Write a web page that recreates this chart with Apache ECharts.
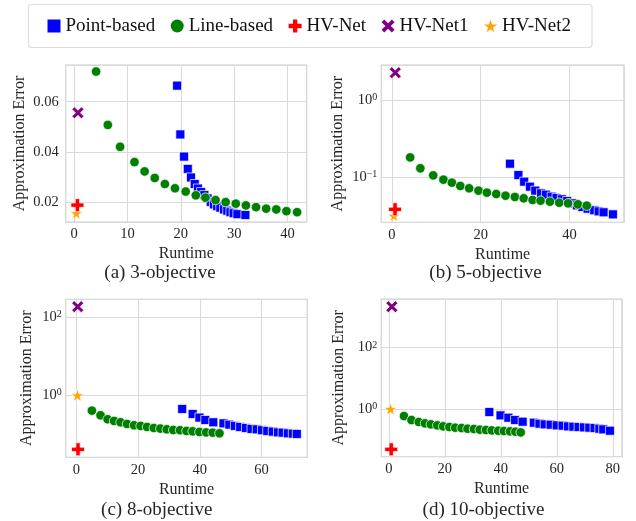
<!DOCTYPE html>
<html>
<head>
<meta charset="utf-8">
<script src="https://cdn.jsdelivr.net/npm/echarts@6/dist/echarts.min.js"></script>
<style>
  html, body { margin: 0; padding: 0; background: #fff; }
  #chart { width: 636px; height: 521px; }
</style>
</head>
<body>
<div id="chart"></div>
<script>
// (a) 3-objective
const aPointX = [19.3, 19.9, 20.6, 21.3, 21.9, 22.6, 23.2, 23.8, 24.4, 25.0, 25.6, 26.2, 26.8, 27.4, 28.1, 28.7, 29.3, 29.9, 30.6, 32.1];
const aPointY = [0.0664, 0.0470, 0.0382, 0.0333, 0.0299, 0.0273, 0.0255, 0.0241, 0.0229, 0.0216, 0.0202, 0.0192, 0.0185, 0.0179, 0.0172, 0.0167, 0.0161, 0.0157, 0.0153, 0.0150];
const aLineX = [4.1, 6.3, 8.6, 11.3, 13.2, 15.1, 17.0, 18.9, 20.9, 22.8, 24.6, 26.5, 28.4, 30.3, 32.2, 34.1, 36.0, 37.9, 39.8, 41.8];
const aLineY = [0.0720, 0.0508, 0.0421, 0.0360, 0.0323, 0.0297, 0.0273, 0.0256, 0.0243, 0.0228, 0.0219, 0.0209, 0.0201, 0.0195, 0.0188, 0.0181, 0.0175, 0.0172, 0.0165, 0.0161];
const aHVNet = [0.6, 0.0189];
const aHVNet1 = [0.7, 0.0556];
const aHVNet2 = [0.4, 0.0157];

// (b) 5-objective
const bPointX = [26.6, 28.5, 29.8, 31.1, 32.3, 33.6, 34.7, 36.0, 37.1, 38.3, 39.5, 40.6, 41.7, 42.9, 44.1, 45.6, 46.6, 47.7, 49.8];
const bPointY = [0.150, 0.107, 0.0879, 0.0757, 0.0673, 0.0621, 0.0597, 0.0562, 0.0541, 0.0520, 0.0494, 0.0461, 0.0434, 0.0413, 0.0393, 0.0375, 0.0363, 0.0353, 0.0332];
const bLineX = [4.1, 6.4, 9.3, 11.6, 13.5, 15.4, 17.4, 19.5, 21.4, 23.5, 25.6, 27.7, 29.7, 31.7, 33.5, 35.6, 37.7, 39.7, 41.9, 43.9];
const bLineY = [0.181, 0.131, 0.106, 0.0933, 0.0853, 0.0773, 0.0721, 0.0673, 0.0634, 0.0609, 0.0579, 0.0557, 0.0535, 0.0509, 0.0499, 0.0484, 0.0469, 0.0461, 0.0447, 0.0430];
const bHVNet = [0.7, 0.0386];
const bHVNet1 = [0.75, 2.26];
const bHVNet2 = [0.45, 0.0319];

// (c) 8-objective
const cPointX = [34.3, 37.7, 39.9, 41.8, 44.4, 47.7, 49.6, 51.4, 53.1, 55.0, 56.8, 58.5, 60.2, 61.9, 63.7, 65.4, 66.9, 68.6, 70.2, 71.5];
const cPointY = [0.446, 0.332, 0.268, 0.233, 0.203, 0.191, 0.177, 0.164, 0.154, 0.145, 0.137, 0.134, 0.127, 0.122, 0.117, 0.112, 0.110, 0.106, 0.104, 0.102];
const cLineX = [5.0, 7.8, 10.1, 12.2, 14.3, 16.4, 18.7, 20.8, 22.9, 25.1, 27.2, 29.3, 31.4, 33.6, 35.7, 37.7, 39.9, 42.1, 44.2, 46.4];
const cLineY = [0.404, 0.307, 0.243, 0.220, 0.203, 0.184, 0.170, 0.164, 0.154, 0.145, 0.140, 0.134, 0.129, 0.127, 0.122, 0.119, 0.115, 0.112, 0.110, 0.106];
const cHVNet = [0.5, 0.0412];
const cHVNet1 = [0.4, 188];
const cHVNet2 = [0.3, 1.0];

// (d) 10-objective
const dPointX = [35.9, 39.9, 42.7, 45.1, 47.8, 51.8, 53.8, 55.7, 57.8, 60.0, 62.1, 64.0, 65.9, 67.8, 69.7, 71.6, 73.5, 75.2, 76.6, 79.0];
const dPointY = [0.798, 0.621, 0.521, 0.438, 0.386, 0.358, 0.332, 0.316, 0.308, 0.293, 0.286, 0.272, 0.265, 0.259, 0.252, 0.246, 0.240, 0.228, 0.217, 0.196];
const dLineX = [5.4, 8.1, 10.7, 12.9, 15.0, 17.3, 19.4, 21.6, 23.7, 26.0, 28.1, 30.4, 32.5, 34.7, 36.8, 39.1, 41.1, 43.3, 45.2, 47.1];
const dLineY = [0.591, 0.438, 0.377, 0.341, 0.316, 0.293, 0.272, 0.259, 0.246, 0.240, 0.228, 0.223, 0.212, 0.207, 0.201, 0.196, 0.192, 0.187, 0.182, 0.173];
const dHVNet = [0.85, 0.0484];
const dHVNet1 = [1.07, 2175];
const dHVNet2 = [0.6, 1.0];

const seriesNames = ["Point-based", "Line-based", "HV-Net", "HV-Net1", "HV-Net2"];
const panelTitles = ["(a) 3-objective", "(b) 5-objective", "(c) 8-objective", "(d) 10-objective"];

const FONT = "'Liberation Serif', 'Times New Roman', serif";
const TXT = "#262626";

// marker shapes
const PLUS = "path://M4,0H8V4H12V8H8V12H4V8H0V4H4Z";
const XMARK = "path://M0,2.5L2.5,0L6,3.5L9.5,0L12,2.5L8.5,6L12,9.5L9.5,12L6,8.5L2.5,12L0,9.5L3.5,6Z";
const STAR = "path://M100,0L122.45,69.1L195.1,69.1L136.33,111.8L158.8,180.9L100,138.2L41.2,180.9L63.67,111.8L4.9,69.1L77.55,69.1Z";

const colors = {"Point-based": "#0000ff", "Line-based": "#008000", "HV-Net": "#ff0000", "HV-Net1": "#800080", "HV-Net2": "#ffa500"};

function pairs(xs, ys) { return xs.map((x, i) => [x, ys[i]]); }

const panels = [
  {grid: {left: 65.7, top: 65, width: 241, height: 157}, x: [-1.6, 43.6], xSplit: 4, y: [0.0122, 0.0746], log: 0, yNameGap: 38, labelMargin: 7,
   data: [pairs(aPointX, aPointY), pairs(aLineX, aLineY), [aHVNet], [aHVNet1], [aHVNet2]], title: [160, 272.7]},
  {grid: {left: 381.3, top: 65, width: 242.7, height: 157.3}, x: [-2.4, 52.3], xSplit: 3, y: [0.0262, 2.84], log: 10, yNameGap: 36, labelMargin: 4,
   data: [pairs(bPointX, bPointY), pairs(bLineX, bLineY), [bHVNet], [bHVNet1], [bHVNet2]], title: [485.5, 272.7]},
  {grid: {left: 65.7, top: 299.3, width: 241.6, height: 158}, x: [-3.5, 74.9], xSplit: 4, y: [0.0257, 290], log: 100, yNameGap: 31, labelMargin: 4,
   data: [pairs(cPointX, cPointY), pairs(cLineX, cLineY), [cHVNet], [cHVNet1], [cHVNet2]], title: [156.7, 510]},
  {grid: {left: 381.3, top: 299, width: 240.7, height: 157.7}, x: [-2.7, 83.3], xSplit: 4, y: [0.0279, 3860], log: 100, yNameGap: 34.5, labelMargin: 4,
   data: [pairs(dPointX, dPointY), pairs(dLineX, dLineY), [dHVNet], [dHVNet1], [dHVNet2]], title: [483.5, 510]}
];

const symbolOf = {
  "Point-based": {symbol: "rect", size: 9},
  "Line-based": {symbol: "circle", size: 9.5},
  "HV-Net": {symbol: PLUS, size: 13},
  "HV-Net1": {symbol: XMARK, size: 12},
  "HV-Net2": {symbol: STAR, size: 13}
};
// drawing order (later is on top)
const drawOrder = [0, 1, 4, 2, 3];

function logLabel(v) {
  const e = Math.round(Math.log10(v));
  return "{b|10}{s|" + String(e).replace("-", "\u2212") + "}";
}

const grids = [], xAxes = [], yAxes = [], series = [], titles = [];
panels.forEach((p, i) => {
  grids.push(Object.assign({show: true, borderColor: "#cccccc", borderWidth: 1.25, backgroundColor: "#fff"}, p.grid));
  xAxes.push({
    type: "value", gridIndex: i, min: p.x[0], max: p.x[1], splitNumber: p.xSplit,
    name: "Runtime", nameLocation: "middle", nameGap: 24,
    nameTextStyle: {fontFamily: FONT, fontSize: 16, color: TXT},
    axisLine: {show: false}, axisTick: {show: false},
    axisLabel: {fontFamily: FONT, fontSize: 14.5, color: TXT, margin: 5, showMinLabel: false, showMaxLabel: false},
    splitLine: {lineStyle: {color: "#dadada", width: 1}}
  });
  const y = {
    gridIndex: i, min: p.y[0], max: p.y[1],
    name: "Approximation Error", nameLocation: "middle", nameGap: p.yNameGap,
    nameTextStyle: {fontFamily: FONT, fontSize: 16, color: TXT},
    axisLine: {show: false}, axisTick: {show: false},
    axisLabel: {fontFamily: FONT, fontSize: 14.5, color: TXT, margin: p.labelMargin, showMinLabel: false, showMaxLabel: false},
    splitLine: {lineStyle: {color: "#dadada", width: 1}}
  };
  if (p.log) {
    y.type = "log";
    y.logBase = p.log;
    y.axisLabel.formatter = logLabel;
    y.axisLabel.rich = {
      b: {fontFamily: FONT, fontSize: 14.5, color: TXT, lineHeight: 15, verticalAlign: "bottom", padding: [4, 0, 0, 0]},
      s: {fontFamily: FONT, fontSize: 10, color: TXT, lineHeight: 11, verticalAlign: "top"}
    };
  } else {
    y.type = "value";
    y.splitNumber = 3;
  }
  yAxes.push(y);
  drawOrder.forEach(k => {
    const name = seriesNames[k];
    series.push({
      name: name, type: "scatter", xAxisIndex: i, yAxisIndex: i,
      symbol: symbolOf[name].symbol, symbolSize: symbolOf[name].size, symbolKeepAspect: true,
      itemStyle: {color: colors[name], opacity: 1, borderColor: "#ffffff", borderWidth: 0.7},
      emphasis: {disabled: true},
      data: p.data[k]
    });
  });
  titles.push({
    text: panelTitles[i], left: p.title[0], top: p.title[1] - 10, textAlign: "center", padding: 0,
    textStyle: {fontFamily: FONT, fontSize: 19, fontWeight: "normal", color: TXT, lineHeight: 20}
  });
});

const chart = echarts.init(document.getElementById("chart"), null, {renderer: "canvas"});
chart.setOption({
  animation: false,
  backgroundColor: "#fff",
  title: titles,
  legend: {
    left: 28.5, top: 4.5,
    padding: [12, 21, 12, 19],
    itemGap: 15.5, itemWidth: 13, itemHeight: 13,
    borderColor: "#dedede", borderWidth: 1.2, borderRadius: 3,
    textStyle: {fontFamily: FONT, fontSize: 19, color: "#111"},
    data: seriesNames.map(n => ({name: n, icon: symbolOf[n].symbol, itemStyle: {color: colors[n], borderWidth: 0}}))
  },
  grid: grids,
  xAxis: xAxes,
  yAxis: yAxes,
  series: series
});
</script>
</body>
</html>
